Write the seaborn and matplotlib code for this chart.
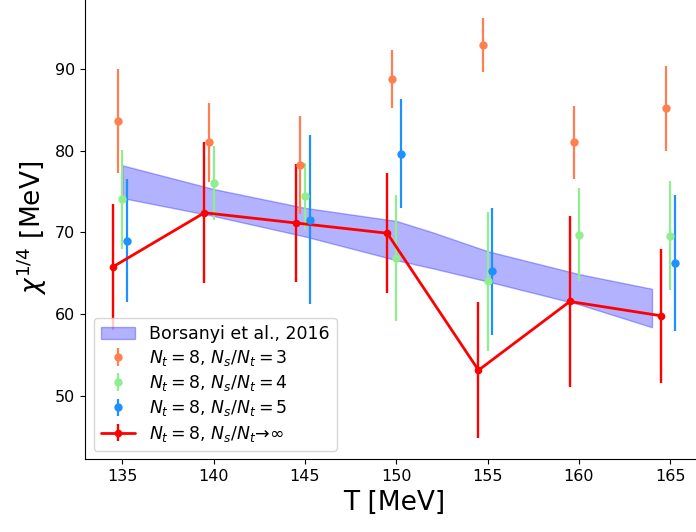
import matplotlib
matplotlib.use("Agg")
import matplotlib.pyplot as plt
import numpy as np
import pandas as pd
import seaborn as sns
from matplotlib.legend_handler import HandlerTuple

# Temperatures of the lattice ensembles [MeV]
T = [135, 140, 145, 150, 155, 160, 165]

# N_t = 8, N_s/N_t = 3
chi3 = [83.6, 81.0, 78.2, 88.7, 92.9, 81.0, 85.2]
chi3_err = [6.4, 4.8, 6.0, 3.55, 3.3, 4.5, 5.2]

# N_t = 8, N_s/N_t = 4
chi4 = [74.05, 76.0, 74.4, 66.9, 64.0, 69.7, 69.6]
chi4_err = [6.05, 4.5, 4.1, 7.7, 8.5, 5.7, 6.7]

# N_t = 8, N_s/N_t = 5 (no data at 140 and 160 MeV)
T5 = [135, 145, 150, 155, 165]
chi5 = [69.0, 71.55, 79.6, 65.25, 66.3]
chi5_err = [7.5, 10.3, 6.65, 7.75, 8.3]

# N_t = 8, infinite-volume extrapolation
chi_inf = [65.8, 72.4, 71.15, 69.9, 53.15, 61.55, 59.8]
chi_inf_err = [7.7, 8.6, 7.25, 7.3, 8.3, 10.4, 8.2]

# Borsanyi et al. 2016 band
band_T = [135, 140, 145, 150, 152, 155, 160, 164]
band_hi = [78.2, 75.3, 73.0, 71.4, 70.0, 67.7, 64.9, 63.1]
band_lo = [74.2, 72.0, 69.5, 66.6, 65.6, 64.0, 61.2, 58.4]

# horizontal offsets so the error bars do not overlap
shift = {"3": -0.25, "4": 0.0, "5": 0.25, "inf": -0.5}

sns.set_theme(style="ticks", context="notebook", rc={
    "axes.edgecolor": "black", "axes.linewidth": 0.8,
    "xtick.color": "black", "ytick.color": "black",
    "xtick.major.width": 0.8, "ytick.major.width": 0.8,
    "xtick.major.size": 3.5, "ytick.major.size": 3.5,
    "text.color": "black", "axes.labelcolor": "black",
    "xtick.labelsize": 11.5, "ytick.labelsize": 11.5,
})
plt.rcParams["font.family"] = ["DejaVu Sans"]
plt.rcParams["mathtext.fontset"] = "dejavusans"

fig = plt.figure(figsize=(6.96, 5.32), dpi=100)
ax = fig.add_axes([85 / 696, 0.1367, 618 / 696, 0.8684])

band = ax.fill_between(band_T, band_lo, band_hi, color="blue", alpha=0.3,
                       lw=1, label="Borsanyi et al., 2016")

e3 = ax.errorbar(np.array(T) + shift["3"], chi3, yerr=chi3_err, fmt="o",
                 color="coral", ms=5, elinewidth=1.6)
e4 = ax.errorbar(np.array(T) + shift["4"], chi4, yerr=chi4_err, fmt="o",
                 color="lightgreen", ms=5, elinewidth=1.6)
e5 = ax.errorbar(np.array(T5) + shift["5"], chi5, yerr=chi5_err, fmt="o",
                 color="dodgerblue", ms=5, elinewidth=1.6)

df_inf = pd.DataFrame({"T": np.array(T) + shift["inf"], "chi": chi_inf})
sns.lineplot(data=df_inf, x="T", y="chi", color="red", lw=2.0,
             marker="o", markersize=5.5, markeredgewidth=0, ax=ax, legend=False)
red_line = ax.lines[-1]
einf = ax.errorbar(df_inf["T"], df_inf["chi"], yerr=chi_inf_err, fmt="none",
                   ecolor="red", elinewidth=1.7)

ax.set_xlim(132.96, 166.79)
ax.set_ylim(42.26, 98.74)
ax.set_xticks([135, 140, 145, 150, 155, 160, 165])
ax.set_yticks([50, 60, 70, 80, 90])
ax.set_xlabel("T [MeV]", fontsize=19)
ax.set_ylabel(r"$\chi^{1/4}$ [MeV]", fontsize=19)

handles = [band, e3, e4, e5, (einf, red_line)]
labels = ["Borsanyi et al., 2016",
          r"$N_t = 8$, $N_s/N_t = 3$",
          r"$N_t = 8$, $N_s/N_t = 4$",
          r"$N_t = 8$, $N_s/N_t = 5$",
          r"$N_t = 8$, $N_s/N_t$→∞"]
ax.legend(handles, labels, loc="lower left", fontsize=12.5, labelspacing=0.3,
          handler_map={tuple: HandlerTuple(ndivide=1, pad=0)},
          frameon=True, fancybox=True, framealpha=0.8, edgecolor="0.8")

fig.savefig("out.png", dpi=100)
